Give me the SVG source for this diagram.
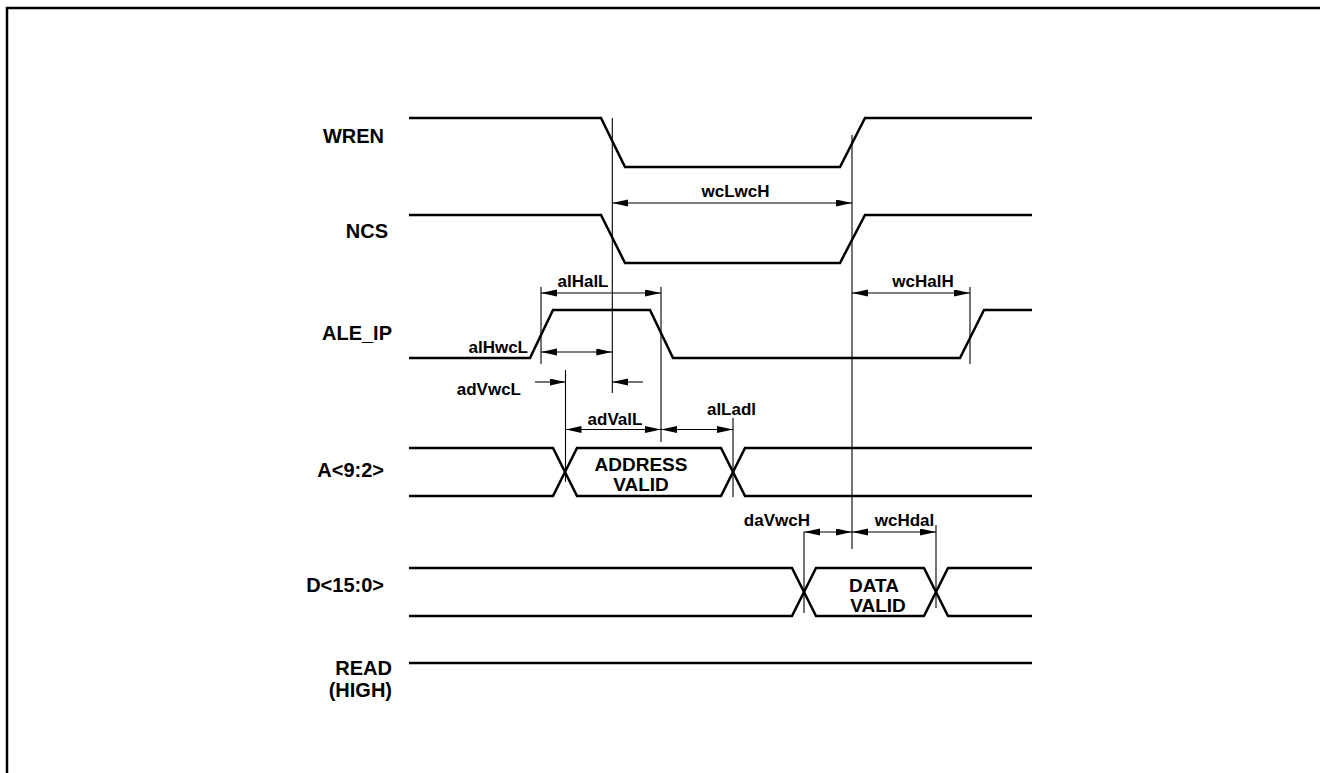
<svg xmlns="http://www.w3.org/2000/svg" width="1320" height="773" viewBox="0 0 1320 773">
<style>
.sig{fill:none;stroke:#000;stroke-width:2.5;stroke-linejoin:miter}
.ref{fill:none;stroke:#000;stroke-width:1.1}
.dim{fill:none;stroke:#000;stroke-width:1.1}
.lbl{font-family:"Liberation Sans",Arial,sans-serif;font-weight:bold;font-size:20px;fill:#000}
.tl{font-family:"Liberation Sans",Arial,sans-serif;font-weight:bold;font-size:17px;fill:#000}
.bx{font-family:"Liberation Sans",Arial,sans-serif;font-weight:bold;font-size:19px;fill:#000;text-anchor:middle}
</style>
<defs>
<marker id="ah" markerUnits="userSpaceOnUse" markerWidth="16" markerHeight="8" refX="16" refY="3.5" orient="auto-start-reverse">
<path d="M0,0 L16,3.5 L0,7 z" fill="#000"/>
</marker>
</defs>
<rect width="1320" height="773" fill="#fff"/>
<path d="M7,773 V8 H1320" fill="none" stroke="#000" stroke-width="2.5"/>

<g id="WREN">
<text class="lbl" x="384" y="143" text-anchor="end">WREN</text>
<path class="sig" d="M409,118 H601 L625,167 H840 L865,118 H1032"/>
</g>
<g id="NCS">
<text class="lbl" x="388" y="238" text-anchor="end">NCS</text>
<path class="sig" d="M409,215 H601 L625,263 H840 L865,215 H1032"/>
</g>
<g id="ALE_IP">
<text class="lbl" x="392" y="340" text-anchor="end">ALE_IP</text>
<path class="sig" d="M409,358 H530 L553,310 H650 L673,358 H960 L984,310 H1032"/>
</g>
<g id="A">
<text class="lbl" x="384" y="477" text-anchor="end">A&lt;9:2&gt;</text>
<path class="sig" d="M409,448 H553 L577,496 H721 L745,448 H1032"/>
<path class="sig" d="M409,496 H553 L577,448 H721 L745,496 H1032"/>
<text class="bx" x="641" y="471">ADDRESS</text>
<text class="bx" x="641" y="491">VALID</text>
</g>
<g id="D">
<text class="lbl" x="384" y="592" text-anchor="end">D&lt;15:0&gt;</text>
<path class="sig" d="M409,568 H792 L816,616 H924 L948,568 H1032"/>
<path class="sig" d="M409,616 H792 L816,568 H924 L948,616 H1032"/>
<text class="bx" x="874" y="592">DATA</text>
<text class="bx" x="878" y="612">VALID</text>
</g>
<g id="READ">
<text class="lbl" x="392" y="675" text-anchor="end">READ</text>
<text class="lbl" x="392" y="697" text-anchor="end">(HIGH)</text>
<path class="sig" d="M409,663 H1032"/>
</g>

<g id="connectors">
<path class="ref" d="M612.3,118 V393"/>
<path class="ref" d="M852,135 V549"/>
<path class="ref" d="M541,287 V364"/>
<path class="ref" d="M661,287 V442"/>
<path class="ref" d="M565.5,370 V482"/>
<path class="ref" d="M733,418 V497"/>
<path class="ref" d="M970,287 V364" stroke-width="1.6"/>
<path class="ref" d="M804,532 V613"/>
<path class="ref" d="M936,525 V608"/>

<line class="dim" x1="612.3" y1="203" x2="852" y2="203" marker-start="url(#ah)" marker-end="url(#ah)"/>
<line class="dim" x1="541" y1="293" x2="661" y2="293" marker-start="url(#ah)" marker-end="url(#ah)"/>
<line class="dim" x1="852" y1="293" x2="970" y2="293" marker-start="url(#ah)" marker-end="url(#ah)"/>
<line class="dim" x1="541" y1="352" x2="612.3" y2="352" marker-start="url(#ah)" marker-end="url(#ah)"/>
<line class="dim" x1="535" y1="382" x2="565.5" y2="382" marker-end="url(#ah)"/>
<line class="dim" x1="643" y1="382" x2="612.3" y2="382" marker-end="url(#ah)"/>
<line class="dim" x1="565.5" y1="429.5" x2="661" y2="429.5" marker-start="url(#ah)" marker-end="url(#ah)"/>
<line class="dim" x1="661" y1="429.5" x2="733" y2="429.5" marker-start="url(#ah)" marker-end="url(#ah)"/>
<line class="dim" x1="804" y1="532" x2="852" y2="532" marker-start="url(#ah)" marker-end="url(#ah)"/>
<line class="dim" x1="852" y1="532" x2="936" y2="532" marker-start="url(#ah)" marker-end="url(#ah)"/>

<text class="tl" x="735.5" y="197" text-anchor="middle">wcLwcH</text>
<text class="tl" x="583" y="287" text-anchor="middle">alHalL</text>
<text class="tl" x="923" y="287" text-anchor="middle">wcHalH</text>
<text class="tl" x="528" y="353" text-anchor="end">alHwcL</text>
<text class="tl" x="521" y="395" text-anchor="end">adVwcL</text>
<text class="tl" x="615" y="425" text-anchor="middle">adValL</text>
<text class="tl" x="731.5" y="415" text-anchor="middle">alLadl</text>
<text class="tl" x="810" y="526" text-anchor="end">daVwcH</text>
<text class="tl" x="904.5" y="526" text-anchor="middle">wcHdal</text>
</g>
</svg>
